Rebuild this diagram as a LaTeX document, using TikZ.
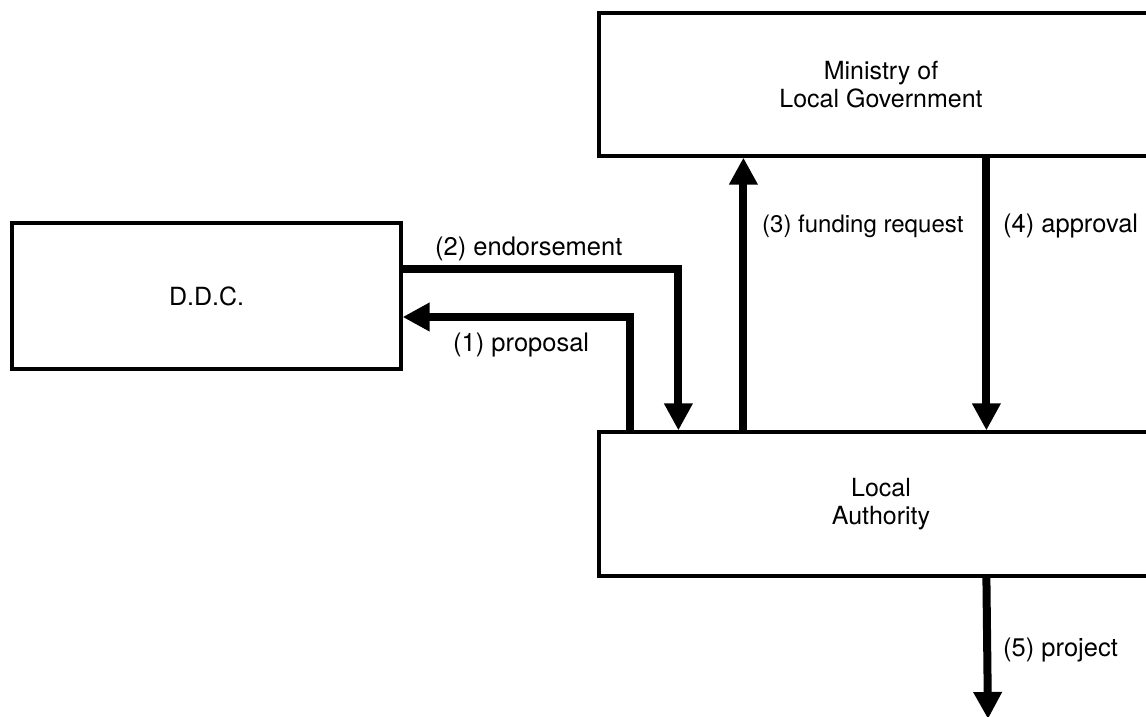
\documentclass[tikz,border=0pt]{standalone}
\usepackage{fontspec}
\setmainfont{TeX Gyre Heros}
\usetikzlibrary{arrows.meta}
\begin{document}
\begin{tikzpicture}[x=1pt,y=-1pt,
  box/.style={draw=black, line width=3.2pt, fill=white, align=center,
    inner sep=0pt, font=\fontsize{25}{27.5}\selectfont},
  flow/.style={draw=black, line width=8pt,
    -{Triangle[width=27pt,length=27pt]}},
  lbl/.style={inner sep=0pt, anchor=west, font=\fontsize{25.5}{28}\selectfont}]
  \clip (0,0) rectangle (1146,717);
  \fill[white] (0,0) rectangle (1146,717);

  % the three bodies
  \node[box, minimum width=564pt, minimum height=143pt] (min) at (881,84.5)
    {Ministry of\\Local Government};
  \node[box, minimum width=389pt, minimum height=146pt] (ddc) at (206.5,296)
    {D.D.C.};
  \node[box, minimum width=564pt, minimum height=144pt] (la) at (881,504)
    {Local\\Authority};
  \coordinate (out) at (988,719);

  % (1) proposal and (2) endorsement
  \draw[flow] ([xshift=33pt]la.north west) |- ([yshift=-21pt]ddc.east);
  \draw[flow] ([yshift=27pt]ddc.east) -| ([xshift=81pt]la.north west);
  % (3) funding request and (4) approval
  \draw[flow] ([xshift=146pt]la.north west) -- ([xshift=146pt]min.south west);
  \draw[flow] ([xshift=389pt]min.south west) -- ([xshift=389pt]la.north west);
  % (5) project
  \draw[flow] ([xshift=389pt]la.south west) -- (out);

  % connector labels
  \node[lbl] (t2) at (435,249) {(2) endorsement};
  \node[lbl] (t1) at (453,345) {(1) proposal};
  \node[lbl, font=\fontsize{24}{27}\selectfont] (t3) at (762,226) {(3) funding request};
  \node[lbl] (t4) at (1003,226) {(4) approval};
  \node[lbl] (t5) at (1003,650) {(5) project};
\end{tikzpicture}
\end{document}
